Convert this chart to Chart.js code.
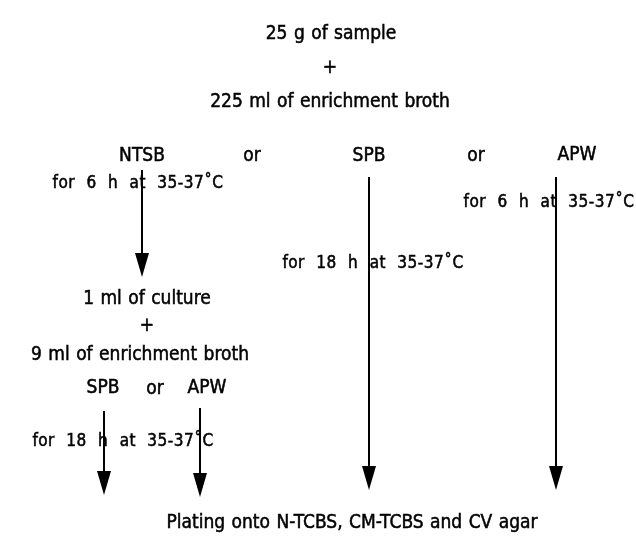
<!DOCTYPE html>
<html><head><meta charset="utf-8">
<script src="https://cdn.jsdelivr.net/npm/chart.js@4"></script>
<style>html,body{margin:0;padding:0;background:#fff}#w{width:636px;height:547px}</style>
</head><body><div id="w"><canvas id="c" width="636" height="547"></canvas></div>
<script>
// Flowchart text nodes
const labels = ["25 g of sample","+","225 ml of enrichment broth","NTSB","or","SPB","or","APW",
  "for 6 h at 35-37˚C","for 6 h at 35-37˚C","for 18 h at 35-37˚C","1 ml of culture","+",
  "9 ml of enrichment broth","SPB","or","APW","for 18 h at 35-37˚C","Plating onto N-TCBS, CM-TCBS and CV agar"];
const labelX = [331,330,330,142,252,369,476,577,138,549,373,147,147,140,103,155,207,123,352];
const labelY = [34,68,102,156,156,156,156,155,184,203,264,299,326,355,388,389,388,442,523];
const labelIsNote = [0,0,0,0,0,0,0,0,1,1,1,0,0,0,0,0,0,1,0];
// Arrows: x, start y, tip y
const arrowX = [142,369,556,104,200];
const arrowY1 = [170,177,177,411,408];
const arrowY2 = [277,490,490,495,497];

function headImage(){
  const c=document.createElement('canvas'); c.width=16; c.height=48;
  const g=c.getContext('2d'); g.fillStyle='#000';
  g.beginPath(); g.moveTo(1,0); g.lineTo(15,0); g.lineTo(8,24); g.closePath(); g.fill();
  return c;
}
const head = headImage();

const datasets = [];
arrowX.forEach((x,i)=>{
  datasets.push({type:'line',data:[{x:x,y:arrowY1[i]},{x:x,y:arrowY2[i]-12}],borderColor:'#000',borderWidth:2,pointRadius:0,showLine:true});
  datasets.push({type:'scatter',data:[{x:x,y:arrowY2[i]}],pointStyle:head,pointRadius:8});
});

const FAM = '"DejaVu Sans Condensed", "DejaVu Sans"';
const textPlugin = {id:'texts',afterDatasetsDraw(chart){
  const ctx=chart.ctx, sx=chart.scales.x, sy=chart.scales.y;
  ctx.save(); ctx.fillStyle='#000'; ctx.strokeStyle='#000'; ctx.lineWidth=0.5;
  ctx.textAlign='center'; ctx.textBaseline='middle';
  labels.forEach((t,i)=>{
    if(labelIsNote[i]){ ctx.font='17px '+FAM; ctx.letterSpacing='0.5px'; ctx.wordSpacing='6px'; }
    else { ctx.font='19px '+FAM; ctx.letterSpacing='0px'; ctx.wordSpacing='1px'; }
    const px=sx.getPixelForValue(labelX[i]), py=sy.getPixelForValue(labelY[i]);
    ctx.fillText(t,px,py); ctx.strokeText(t,px,py);
  });
  ctx.restore();
}};

new Chart(document.getElementById('c'),{
  type:'scatter',
  data:{datasets},
  options:{responsive:false,animation:false,devicePixelRatio:1,
    layout:{padding:0,autoPadding:false},
    plugins:{legend:{display:false},tooltip:{enabled:false}},
    scales:{x:{type:'linear',min:0,max:636,display:false},y:{type:'linear',min:0,max:547,reverse:true,display:false}}},
  plugins:[textPlugin]
});
</script></body></html>
